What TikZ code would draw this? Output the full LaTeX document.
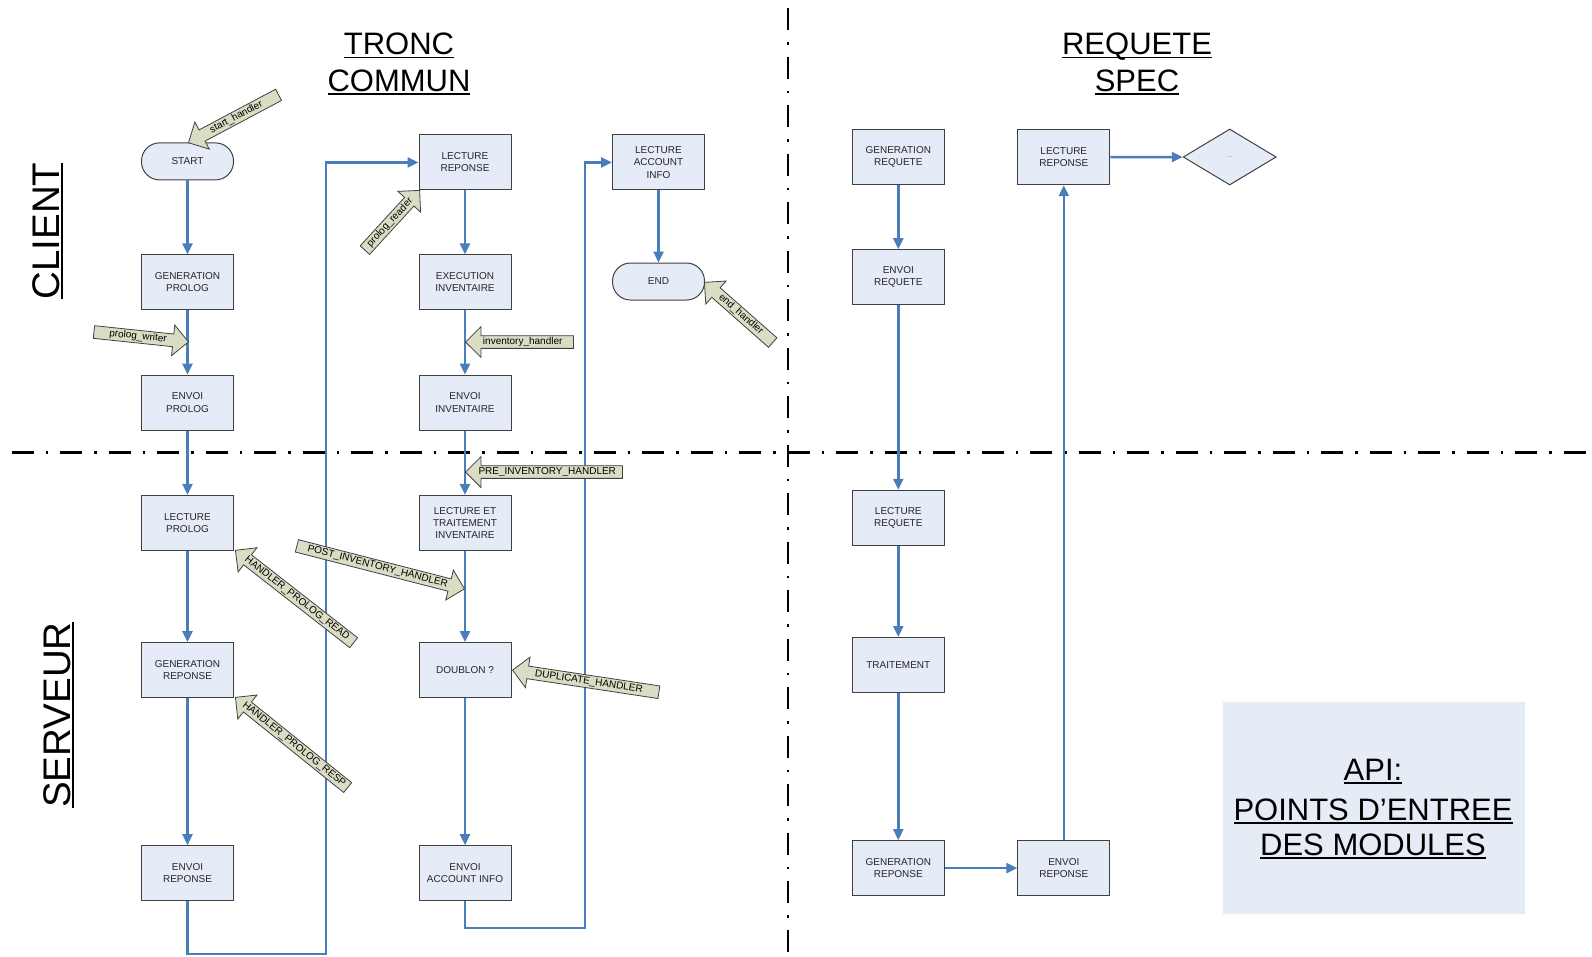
\documentclass[tikz,border=0pt]{standalone}
\usepackage{fontspec}
\setmainfont{Liberation Sans}
\usetikzlibrary{arrows.meta,shapes.arrows,shapes.geometric}

\definecolor{flowblue}{HTML}{4A7EBB}
\definecolor{boxfill}{HTML}{E5ECF7}
\definecolor{boxline}{HTML}{404040}
\definecolor{hookfill}{HTML}{DADDC4}
\definecolor{apifill}{HTML}{E6ECF6}

% underlined text with a rule scaled to the current font
\newcommand\ulx[1]{\setbox0=\hbox{#1}\rlap{\rule[-0.115em]{\wd0}{0.06em}}\box0}

\begin{document}
\begin{tikzpicture}[x=1pt,y=-1pt,
  stepbox/.style={draw=boxline, fill=boxfill, line width=1pt,
    minimum width=92pt, minimum height=55pt, inner sep=0pt, align=center,
    text=black!85, font=\fontsize{10}{12.2}\selectfont},
  term/.style={stepbox, minimum height=37pt, rounded corners=18pt},
  decide/.style={diamond, draw=boxline, fill=boxfill, line width=1pt,
    minimum width=93pt, minimum height=56pt, inner sep=0pt,
    text=black!60, font=\fontsize{6}{7}\selectfont},
  flow/.style={draw=flowblue, line width=2.4pt, -{Triangle[length=11pt,width=10pt]}},
  hook/.style={single arrow, draw=black!75, fill=hookfill, line width=0.8pt,
    font=\fontsize{10}{10}\selectfont, inner sep=1.2pt, text height=7.3pt, text depth=2.2pt,
    single arrow head extend=9pt, single arrow tip angle=90, anchor=tip},
  backhook/.style={hook, shape border rotate=180},
  sep/.style={line width=2.5pt, black, dash pattern=on 22pt off 12pt on 2.5pt off 12pt},
  title/.style={anchor=base, font=\fontsize{31}{36}\selectfont},
  side/.style={anchor=base, rotate=90, font=\fontsize{38.5}{42}\selectfont}
]
\useasboundingbox (0,0) rectangle (1592,956);

% separators between client/server and common/specific parts
\coordinate (vtop) at (787.9,8);
\coordinate (vbot) at (787.9,956);
\coordinate (hleft) at (11.7,452.7);
\coordinate (hright) at (1592,452.7);
\draw[sep] (vtop) -- (vbot);
\draw[sep] (hleft) -- (hright);

% headings
\node[title] (t1) at (399,54.8) {\ulx{TRONC}};
\node[title] (t2) at (399,91.4) {\ulx{COMMUN}};
\node[title] (t3) at (1137,54.8) {\ulx{REQUETE}};
\node[title] (t4) at (1137,91.4) {\ulx{SPEC}};
\node[side] (client) at (59,231) {\ulx{CLIENT}};
\node[side] (serveur) at (70,715) {\ulx{SERVEUR}};

% API legend
\node[fill=apifill, minimum width=302pt, minimum height=212pt, inner sep=0pt] (api) at (1374,808) {};
\node[title] (api1) at (1373,780) {\ulx{API:}};
\node[title] (api2) at (1373,820) {\ulx{POINTS D’ENTREE}};
\node[title] (api3) at (1373,855.5) {\ulx{DES MODULES}};

% common trunk: left column
\node[term] (start) at (187.5,161.4) {START};
\node[stepbox] (genprolog) at (187.5,282.3) {GENERATION\\PROLOG};
\node[stepbox] (envprolog) at (187.5,402.6) {ENVOI\\PROLOG};
\node[stepbox] (lecprolog) at (187.5,522.9) {LECTURE\\PROLOG};
\node[stepbox] (genrep) at (187.5,670.1) {GENERATION\\REPONSE};
\node[stepbox] (envrep) at (187.5,873.2) {ENVOI\\REPONSE};

% common trunk: middle column
\node[stepbox] (lecrep) at (465,162.4) {LECTURE\\REPONSE};
\node[stepbox] (exec) at (465,282.3) {EXECUTION\\INVENTAIRE};
\node[stepbox] (envinv) at (465,402.6) {ENVOI\\INVENTAIRE};
\node[stepbox] (lectinv) at (465,522.9) {LECTURE ET\\TRAITEMENT\\INVENTAIRE};
\node[stepbox] (doublon) at (465,670.1) {DOUBLON ?};
\node[stepbox] (envacc) at (465,873.2) {ENVOI\\ACCOUNT INFO};

% common trunk: right column
\node[stepbox] (lecacc) at (658.5,162.4) {LECTURE\\ACCOUNT\\INFO};
\node[term] (end) at (658.5,281.5) {END};

% specific request
\node[stepbox] (genreq) at (898.3,157.2) {GENERATION\\REQUETE};
\node[stepbox] (envreq) at (898.3,277.2) {ENVOI\\REQUETE};
\node[stepbox] (lecreq) at (898.3,517.8) {LECTURE\\REQUETE};
\node[stepbox] (trait) at (898.3,665) {TRAITEMENT};
\node[stepbox] (genrep2) at (898.3,868.1) {GENERATION\\REPONSE};
\node[stepbox] (envrep2) at (1063.8,868.1) {ENVOI\\REPONSE};
\node[stepbox] (lecrep2) at (1063.8,157.2) {LECTURE\\REPONSE};
\node[decide] (more) at (1229.7,157) {...};

% flow connectors
\draw[flow] (start) -- (genprolog);
\draw[flow] (genprolog) -- (envprolog);
\draw[flow] (envprolog) -- (lecprolog);
\draw[flow] (lecprolog) -- (genrep);
\draw[flow] (genrep) -- (envrep);
\coordinate (loopA) at (326,954);
\draw[flow] (envrep.south) |- (loopA) |- (lecrep.west);
\draw[flow] (lecrep) -- (exec);
\draw[flow] (exec) -- (envinv);
\draw[flow] (envinv) -- (lectinv);
\draw[flow] (lectinv) -- (doublon);
\draw[flow] (doublon) -- (envacc);
\coordinate (loopB) at (585,928);
\draw[flow] (envacc.south) |- (loopB) |- (lecacc.west);
\draw[flow] (lecacc) -- (end);

\draw[flow] (genreq) -- (envreq);
\draw[flow] (envreq) -- (lecreq);
\draw[flow] (lecreq) -- (trait);
\draw[flow] (trait) -- (genrep2);
\draw[flow] (genrep2) -- (envrep2);
\draw[flow] (envrep2) -- (lecrep2);
\draw[flow] (lecrep2) -- (more);

% module entry points
\node[backhook, rotate=28, minimum height=102pt] (hstart) at (188,143) {start\_handler};
\node[hook, rotate=-6, minimum height=95pt] (hwriter) at (189,342) {prolog\_writer};
\node[hook, rotate=47.5, minimum height=81pt] (hreader) at (420,190) {prolog\_reader};
\node[backhook, rotate=0, minimum height=108pt] (hinv) at (465,342) {inventory\_handler};
\node[backhook, rotate=-41.4, minimum height=91pt] (hend) at (704,282) {end\_handler};
\node[backhook, rotate=0, minimum height=157pt] (hpre) at (465,472) {PRE\_INVENTORY\_HANDLER};
\node[hook, rotate=-14.4, minimum height=173pt] (hpost) at (465,589) {POST\_INVENTORY\_HANDLER};
\node[backhook, rotate=-38, minimum height=150pt] (hpread) at (235,550) {HANDLER\_PROLOG\_READ};
\node[backhook, rotate=-38.8, minimum height=144pt] (hpresp) at (235,697) {HANDLER\_PROLOG\_RESP};
\node[backhook, rotate=-8.6, minimum height=148pt] (hdup) at (512,670) {DUPLICATE\_HANDLER};
\end{tikzpicture}
\end{document}
